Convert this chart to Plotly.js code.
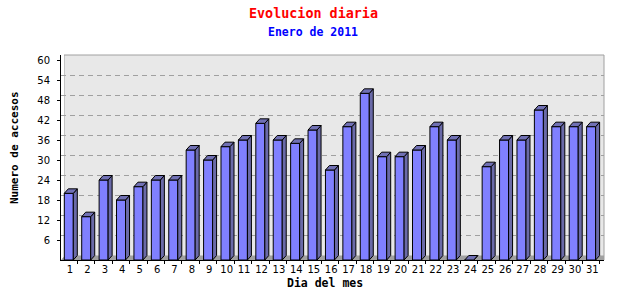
<!DOCTYPE html>
<html>
<head>
<meta charset="utf-8">
<script src="https://cdn.plot.ly/plotly-3.0.1.min.js"></script>
<style>html,body{margin:0;padding:0;background:#fff;}#chart{width:640px;height:300px;}</style>
</head>
<body>
<div id="chart"></div>
<script>
const dias = [1,2,3,4,5,6,7,8,9,10,11,12,13,14,15,16,17,18,19,20,21,22,23,24,25,26,27,28,29,30,31];
const accesos = [20,13,24,18,22,24,24,33,30,34,36,41,36,35,39,27,40,50,31,31,33,40,36,0,28,36,36,45,40,40,40];
const yTicks = [6,12,18,24,30,36,42,48,54,60];
const gridTicks = [6,12,18,24,30,36,42,48,54];

const W = 0.517;   // bar width (category units)
const DX = 0.23;   // depth offset x (category units)
const DY = 1.35;   // depth offset y (value units)
const xr = [0.552, 31.74];
const yr = [0, 61.5];

// side faces and top faces derived from data
const sx = [], sy = [], tx = [], ty = [];
dias.forEach((d, i) => {
  const v = accesos[i];
  const r = d + W / 2, l = d - W / 2;
  sx.push(r, r + DX, r + DX, r, r, null);
  sy.push(0, DY, v + DY, v, 0, null);
  tx.push(l, l + DX, r + DX, r, l, null);
  ty.push(v, v + DY, v + DY, v, v, null);
});

const traces = [
  {type: 'bar', x: dias, y: accesos, width: W,
   marker: {color: '#8080ff', line: {color: '#000', width: 1}}, hoverinfo: 'skip'},
  {type: 'scatter', mode: 'lines', x: sx, y: sy, fill: 'toself', fillcolor: '#6a6aa8',
   line: {color: '#000', width: 1}, hoverinfo: 'skip'},
  {type: 'scatter', mode: 'lines', x: tx, y: ty, fill: 'toself', fillcolor: '#7070b4',
   line: {color: '#000', width: 1}, hoverinfo: 'skip'},
  {type: 'scatter', mode: 'markers', x: [null], y: [null], yaxis: 'y2', hoverinfo: 'skip'}
];

const tickFont = {family: 'DejaVu Sans', size: 10, color: '#000'};

const layout = {
  width: 640, height: 300,
  margin: {l: 61, r: 36, t: 55, b: 40, pad: 0},
  paper_bgcolor: '#ffffff', plot_bgcolor: '#ffffff',
  showlegend: false, barmode: 'overlay',
  xaxis: {range: xr, tickvals: dias.map(d => d + 0.07), ticktext: dias.map(String), ticks: '', showgrid: false,
          zeroline: false, showline: true, linecolor: '#000', linewidth: 1, tickfont: tickFont,
          ticklabelstandoff: 0,
          minor: {tick0: 0.5, dtick: 1, ticks: 'outside', ticklen: 3, tickcolor: '#000', showgrid: false}},
  yaxis: {range: yr, tickvals: yTicks, ticks: 'outside', ticklen: 3, tickcolor: '#000',
          showgrid: false, zeroline: false, showline: true, linecolor: '#000', linewidth: 1,
          tickfont: tickFont, ticklabelstandoff: 5},
  yaxis2: {overlaying: 'y', range: [yr[0] - DY, yr[1] - DY], tickvals: gridTicks, showticklabels: false,
           showgrid: true, gridcolor: '#a0a0a0', griddash: '5px,4px', gridwidth: 1, zeroline: false, ticks: ''},
  shapes: [
    // back wall
    {type: 'rect', xref: 'paper', yref: 'paper', x0: 3 / 543, x1: 1, y0: 0, y1: 1,
     fillcolor: '#e8e8e8', line: {color: '#a0a0a0', width: 1}, layer: 'below'},
    // left strip (side wall) covering grid
    {type: 'rect', xref: 'paper', yref: 'paper', x0: 0, x1: 3 / 543, y0: 0, y1: 1,
     fillcolor: '#ffffff', line: {width: 0}, layer: 'between'},
    // floor
    {type: 'path', xref: 'x', yref: 'y',
     path: `M ${xr[0]},0 L ${xr[0] + DX},${DY} L ${xr[1]},${DY} L ${xr[1]},0 Z`,
     fillcolor: '#a0a0a0', line: {width: 0}, layer: 'between'}
  ],
  annotations: [
    {text: '<b>Evolucion diaria</b>', xref: 'paper', yref: 'paper', x: (313 - 61) / 543, y: (260 - 13.5) / 205,
     xanchor: 'center', yanchor: 'middle', showarrow: false,
     font: {family: 'DejaVu Sans Mono', size: 13.4, color: '#ff0000'}},
    {text: '<b>Enero de 2011</b>', xref: 'paper', yref: 'paper', x: (312.5 - 61) / 543, y: (260 - 32) / 205,
     xanchor: 'center', yanchor: 'middle', showarrow: false,
     font: {family: 'DejaVu Sans Mono', size: 11.5, color: '#0000ff'}},
    {text: '<b>Dia del mes</b>', xref: 'paper', yref: 'paper', x: (325 - 61) / 543, y: (260 - 283) / 205,
     xanchor: 'center', yanchor: 'middle', showarrow: false,
     font: {family: 'DejaVu Sans Mono', size: 11.5, color: '#000'}},
    {text: '<b>Numero de accesos</b>', xref: 'paper', yref: 'paper', x: (14 - 61) / 543, y: (260 - 148) / 205,
     xanchor: 'center', yanchor: 'middle', showarrow: false, textangle: -90,
     font: {family: 'DejaVu Sans Mono', size: 11, color: '#000'}}
  ]
};

Plotly.newPlot('chart', traces, layout, {displayModeBar: false, staticPlot: true});
</script>
</body>
</html>
